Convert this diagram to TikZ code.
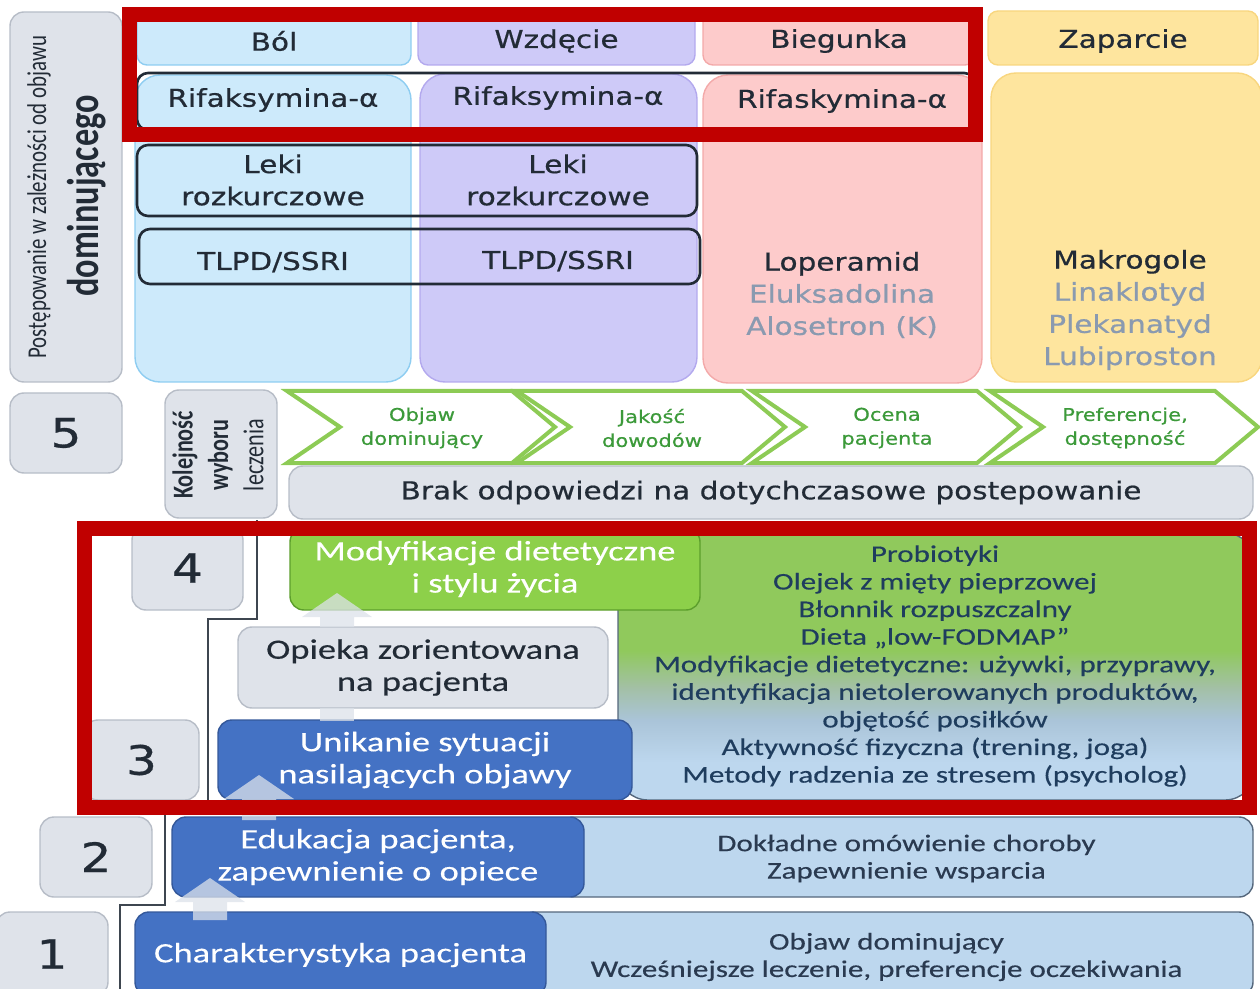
\documentclass[tikz,border=0pt]{standalone}
\usepackage{fontspec}
\usepackage{graphicx}
\setmainfont[FakeStretch=1.2,FakeBold=0.6]{DejaVu Sans}
\newfontfamily\lowfont[FakeStretch=1.3,FakeBold=0.3]{Carlito}
\newfontfamily\sidefont{Carlito}
\usetikzlibrary{fit}

\definecolor{ink}{HTML}{222B36}
\definecolor{mutedtxt}{HTML}{8A9AB0}
\definecolor{bolfill}{HTML}{CDEAFB}
\definecolor{bolline}{HTML}{8ECDF1}
\definecolor{wzdfill}{HTML}{CECAF8}
\definecolor{wzdline}{HTML}{B3A9EE}
\definecolor{biegfill}{HTML}{FDCBCB}
\definecolor{biegline}{HTML}{F3A9A9}
\definecolor{zapfill}{HTML}{FEE59E}
\definecolor{zapline}{HTML}{F8D67F}
\definecolor{boxgray}{HTML}{DFE3EA}
\definecolor{boxgrayline}{HTML}{B7BDC7}
\definecolor{chevgreen}{HTML}{8DCB55}
\definecolor{chevtext}{HTML}{3C9A3A}
\definecolor{stepblue}{HTML}{4472C4}
\definecolor{stepblueline}{HTML}{34589A}
\definecolor{noteblue}{HTML}{BDD7EE}
\definecolor{noteline}{HTML}{55677C}
\definecolor{notetxt}{HTML}{2A3A50}
\definecolor{stepgreen}{HTML}{8DD04A}
\definecolor{stepgreenline}{HTML}{5C9E2C}
\definecolor{dietgreen}{HTML}{90C95C}
\definecolor{dietmid}{HTML}{A3C0A6}
\definecolor{dietbluegray}{HTML}{AAC4D8}
\definecolor{dietink}{HTML}{1F3D5E}
\definecolor{liftgray}{HTML}{DCE2EA}
\definecolor{stairgray}{HTML}{3E4650}
\definecolor{markred}{HTML}{C00000}

\pgfdeclareverticalshading{dietshade}{100bp}{color(0bp)=(noteblue); color(32bp)=(noteblue);
  color(40bp)=(dietbluegray); color(46bp)=(dietmid); color(53bp)=(dietgreen); color(100bp)=(dietgreen)}

\tikzset{
  cell/.style={inner sep=0pt, align=center},
  column/.style={cell, rounded corners=0.5cm, line width=0.8pt},
  head/.style={cell, rounded corners=0.2cm, line width=0.8pt},
  headtxt/.style={text=ink, font=\fontsize{14}{17}\selectfont},
  graybox/.style={cell, rounded corners=0.28cm, fill=boxgray, draw=boxgrayline, line width=0.8pt},
  drugrow/.style={cell, rounded corners=0.22cm, draw=ink, line width=1.5pt},
  drugtxt/.style={align=center, text=ink, font=\fontsize{14}{18.3}\selectfont},
  numtxt/.style={text=ink, font=\fontsize{23}{26}\selectfont},
  chevron/.style={draw=chevgreen, fill=white, line width=0.08cm},
  chevtxt/.style={align=center, text=chevtext, font=\fontsize{10}{13.6}\selectfont},
  bluebox/.style={cell, rounded corners=0.28cm, fill=stepblue, draw=stepblueline, line width=0.8pt},
  lowtxt/.style={align=center, font=\lowfont\fontsize{16}{18.3}\selectfont},
  notebox/.style={cell, rounded corners=0.28cm, fill=noteblue, draw=noteline, line width=0.8pt},
  notetxtsty/.style={align=center, text=notetxt, font=\lowfont\fontsize{13.6}{15.6}\selectfont},
  liftfill/.style={fill=liftgray, fill opacity=0.75},
  stair/.style={draw=stairgray, line width=1.2pt},
  redmark/.style={draw=markred, line width=0.3cm}
}

\newcommand{\liftarrow}[2]{%
  \fill[liftfill] (#1) ++(-17,0) -- ++(0,-#2) -- ++(-18,0) -- ++(35,-24)
    -- ++(35,24) -- ++(-18,0) -- ++(0,#2) -- cycle;}

\begin{document}
\begin{tikzpicture}[x=0.02cm, y=-0.02cm]
    \clip (0,0) rectangle (1260,989);

    % objaw dominujacy
    \node[graybox, fit={(10,12) (122,382)}] (dirbox) {};
    \node[rotate=90, text=ink, font=\sidefont\fontsize{11.9}{14}\selectfont] (dirtxt)
      at (39,197) {\scalebox{1}[1.3]{Postępowanie w zależności od objawu}};
    \node[rotate=90, text=ink, font=\sidefont\bfseries\fontsize{19.5}{22}\selectfont] (dirbold)
      at (87,196) {\scalebox{1}[1.3]{dominującego}};

    \node[column, fill=bolfill, draw=bolline, fit={(135,75) (411,382)}] (colbol) {};
    \node[column, fill=wzdfill, draw=wzdline, fit={(420,74) (697,382)}] (colwzd) {};
    \node[column, fill=biegfill, draw=biegline, fit={(703,75) (982,383)}] (colbieg) {};
    \node[column, fill=zapfill, draw=zapline, fit={(991,73) (1262,382)}] (colzap) {};

    \node[head, fill=bolfill, draw=bolline, fit={(137,11) (411,65)},
      label={[headtxt, yshift=-0.06cm]center:Ból}] (hbol) {};
    \node[head, fill=wzdfill, draw=wzdline, fit={(418,11) (695,65)},
      label={[headtxt, yshift=-0.06cm]center:Wzdęcie}] (hwzd) {};
    \node[head, fill=biegfill, draw=biegline, fit={(703,11) (975,65)},
      label={[headtxt, yshift=-0.06cm]center:Biegunka}] (hbieg) {};
    \node[head, fill=zapfill, draw=zapline, fit={(988,11) (1258,65)},
      label={[headtxt, yshift=-0.06cm]center:Zaparcie}] (hzap) {};

    \node[drugrow, fit={(137,73) (975,130)}] (rifrow) {};
    \node[drugrow, fit={(137,145) (697,216)}] (lekirow) {};
    \node[drugrow, fit={(139,229) (700,284)}] (tlpdrow) {};

    \node[drugtxt] (rif1) at (273,100) {Rifaksymina-α};
    \node[drugtxt] (rif2) at (558,98) {Rifaksymina-α};
    \node[drugtxt] (rif3) at (842,101) {Rifaskymina-α};
    \node[drugtxt] (leki1) at (273,180) {Leki\\rozkurczowe};
    \node[drugtxt] (leki2) at (558,180) {Leki\\rozkurczowe};
    \node[drugtxt] (tlpd1) at (273,262) {TLPD/SSRI};
    \node[drugtxt] (tlpd2) at (558,261) {TLPD/SSRI};
    \node[drugtxt, text=mutedtxt] (diarr) at (842,295)
      {\textcolor{ink}{Loperamid}\\Eluksadolina\\Alosetron (K)};
    \node[drugtxt, text=mutedtxt] (const) at (1130,310)
      {\textcolor{ink}{Makrogole}\\Linaklotyd\\Plekanatyd\\Lubiproston};

    % krok 5
    \node[graybox, fit={(10,393) (122,473)}, label={[numtxt]center:5}] (n5) {};
    \node[graybox, fit={(165,390) (277,518)}] (ordbox) {};
    \node[rotate=90, text=ink, font=\sidefont\fontsize{12.6}{15.5}\selectfont] (ordtxt)
      at (221,455) {\scalebox{1}[1.3]{\begin{tabular}{@{}c@{}}\bfseries Kolejność\\
      \bfseries wyboru\\leczenia\end{tabular}}};

    \foreach \lx/\txt [count=\i] in {287/{Objaw\\dominujący}, 517/{Jakość\\dowodów},
        752/{Ocena\\pacjenta}, 990/{Preferencje,\\dostępność}} {
      \draw[chevron] (\lx,391) -- ++(225,0) -- ++(43,36) -- ++(-43,36) -- ++(-225,0)
        -- ++(53,-36) -- cycle;
      \node[chevtxt] (chev\i) at (\lx+135,428) {\txt};
    }

    \node[graybox, fit={(289,466) (1253,519)},
      label={[headtxt]center:Brak odpowiedzi na dotychczasowe postepowanie}] (nores) {};

    % kroki 1-4
    \draw[stair] (257,520) -- (257,619) -- (208,619) -- (208,808) -- (165,808)
      -- (165,905) -- (120,905) -- (120,995);

    \node[graybox, fit={(132,526) (243,610)}, label={[numtxt]center:4}] (n4) {};
    \node[graybox, fit={(84,720) (199,800)}, label={[numtxt]center:3}] (n3) {};
    \node[graybox, fit={(40,817) (152,897)}, label={[numtxt]center:2}] (n2) {};
    \node[graybox, fit={(-4,912) (108,996)}, label={[numtxt]center:1}] (n1) {};

    \node[cell, shade, shading=dietshade, draw=noteline, line width=0.8pt, rounded corners=0.6cm,
      fit={(618,533) (1255,800)}] (dietbox) {};
    \node[align=center, text=dietink, font=\lowfont\fontsize{13.6}{15.7}\selectfont] (diettxt)
      at (935,666) {Probiotyki\\Olejek z mięty pieprzowej\\Błonnik rozpuszczalny\\
      Dieta „low-FODMAP”\\Modyfikacje dietetyczne: używki, przyprawy,\\
      identyfikacja nietolerowanych produktów,\\objętość posiłków\\
      Aktywność fizyczna (trening, joga)\\Metody radzenia ze stresem (psycholog)};

    \node[notebox, fit={(560,817) (1253,897)},
      label={[notetxtsty, yshift=-0.03cm]center:{Dokładne omówienie choroby\\Zapewnienie wsparcia}}] (edunote) {};
    \node[notebox, fit={(520,912) (1253,996)},
      label={[notetxtsty, yshift=-0.06cm]center:{Objaw dominujący\\Wcześniejsze leczenie, preferencje oczekiwania}}] (charnote) {};

    \node[graybox, fit={(238,627) (608,708)},
      label={[lowtxt, text=ink]center:{Opieka zorientowana\\na pacjenta}}] (care) {};
    \node[cell, rounded corners=0.28cm, fill=stepgreen, draw=stepgreenline, line width=0.8pt,
      fit={(290,528) (700,610)},
      label={[lowtxt, text=white]center:{Modyfikacje dietetyczne\\i stylu życia}}] (diet) {};
    \node[bluebox, fit={(218,720) (632,800)},
      label={[lowtxt, text=white]center:{Unikanie sytuacji\\nasilających objawy}}] (avoid) {};
    \node[bluebox, fit={(172,817) (584,897)},
      label={[lowtxt, text=white]center:{Edukacja pacjenta,\\zapewnienie o opiece}}] (educ) {};
    \node[bluebox, fit={(135,912) (546,996)},
      label={[lowtxt, text=white, yshift=-0.02cm]center:{Charakterystyka pacjenta}}] (chars) {};

    \coordinate (lift1) at (337,627);
    \coordinate (lift3) at (259,820);
    \coordinate (lift4) at (210,920);
    \liftarrow{lift1}{10}
    \fill[liftfill] (320,708) rectangle (354,721);
    \liftarrow{lift3}{21}
    \liftarrow{lift4}{18}

    % ramki
    \draw[redmark] (129.5,15) rectangle (975,135);
    \draw[redmark] (84.5,528) rectangle (1249,807.5);
\end{tikzpicture}
\end{document}
